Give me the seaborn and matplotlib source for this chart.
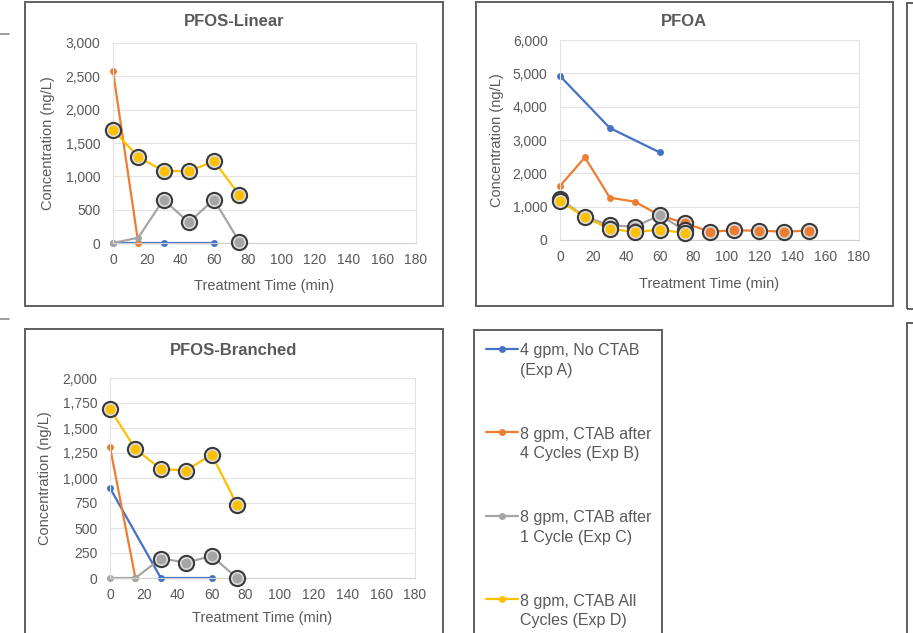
import numpy as np
import pandas as pd
import seaborn as sns
import matplotlib.pyplot as plt
from matplotlib.patches import Rectangle
from matplotlib.lines import Line2D
from matplotlib.ticker import StrMethodFormatter, MultipleLocator

# experiment names and Excel-ish colours
experiments = ['4 gpm, No CTAB\n(Exp A)', '8 gpm, CTAB after\n4 Cycles (Exp B)',
               '8 gpm, CTAB after\n1 Cycle (Exp C)', '8 gpm, CTAB All\nCycles (Exp D)']
colors = ['#4472C4', '#ED7D31', '#A5A5A5', '#FFC000']

# sampling times (min)
t_a = [0, 30, 60]
t_b_short = [0, 15]
t_b_long = [0, 15, 30, 45, 60, 75, 90, 105, 120, 135, 150]
t_cd = [0, 15, 30, 45, 60, 75]

# PFOS-Linear (ng/L)
lin_a = [0, 0, 0]
lin_b = [2580, 0]
lin_c = [0, 80, 650, 310, 650, 20]
lin_d = [1700, 1290, 1080, 1075, 1230, 720]
lin_c_flag = [0, 0, 1, 1, 1, 1]
lin_d_flag = [1, 1, 1, 1, 1, 1]

# PFOA (ng/L)
pfoa_a = [4920, 3360, 2630]
pfoa_b = [1620, 2480, 1270, 1150, 740, 510, 250, 290, 280, 250, 280]
pfoa_c = [1230, 700, 440, 400, 740, 300]
pfoa_d = [1170, 680, 340, 240, 310, 210]
pfoa_b_flag = [0, 0, 0, 0, 0, 1, 1, 1, 1, 1, 1]
pfoa_c_flag = [1, 0, 1, 1, 1, 1]
pfoa_d_flag = [1, 1, 1, 1, 1, 1]

# PFOS-Branched (ng/L)
br_a = [900, 0, 0]
br_b = [1310, 0]
br_c = [0, 0, 195, 155, 220, 0]
br_d = [1690, 1290, 1090, 1075, 1235, 730]
br_c_flag = [0, 0, 1, 1, 1, 1]
br_d_flag = [1, 1, 1, 1, 1, 1]


def make_df(a, b, tb, c, d, bflag, cflag, dflag):
    rows = []
    for t, v in zip(t_a, a):
        rows.append((t, v, experiments[0], 0))
    for t, v, f in zip(tb, b, bflag):
        rows.append((t, v, experiments[1], f))
    for t, v, f in zip(t_cd, c, cflag):
        rows.append((t, v, experiments[2], f))
    for t, v, f in zip(t_cd, d, dflag):
        rows.append((t, v, experiments[3], f))
    return pd.DataFrame(rows, columns=['time', 'conc', 'exp', 'flag'])


df_lin = make_df(lin_a, lin_b, t_b_short, lin_c, lin_d, [0, 0], lin_c_flag, lin_d_flag)
df_pfoa = make_df(pfoa_a, pfoa_b, t_b_long, pfoa_c, pfoa_d, pfoa_b_flag, pfoa_c_flag, pfoa_d_flag)
df_br = make_df(br_a, br_b, t_b_short, br_c, br_d, [0, 0], br_c_flag, br_d_flag)

sns.set_style('white')
plt.rcParams['font.family'] = ['Liberation Sans', 'DejaVu Sans']
txt = '#595959'
pal = dict(zip(experiments, colors))

fig = plt.figure(figsize=(9.13, 6.33), dpi=100)
W, H = 913.0, 633.0


def fx(px):
    return px / W


def fy(py):
    return 1 - py / H


# panel frames (pixel boxes)
frames = [(25, 2, 443, 306), (476, 2, 893, 306), (25, 329, 443, 660),
          (474, 330, 662, 660), (907, 3, 960, 309), (907, 323, 960, 660)]
for x0, y0, x1, y1 in frames:
    fig.add_artist(Rectangle((fx(x0), fy(y1)), fx(x1) - fx(x0), fy(y0) - fy(y1),
                             transform=fig.transFigure, fill=False,
                             edgecolor='#5f5f5f', linewidth=1.4))
for py in [34, 319]:
    fig.add_artist(Line2D([0, fx(9)], [fy(py), fy(py)], transform=fig.transFigure,
                          color='#8c8c8c', linewidth=1.2))

# title, frame-of-plot (px), y max, y step, title pos, label offsets
panels = [
    ('PFOS-Linear', df_lin, (113, 43, 416, 243), 3000, 500, 234, 22, -0.19, -0.18),
    ('PFOA', df_pfoa, (560, 40, 859, 240), 6000, 1000, 684, 21, -0.187, -0.185),
    ('PFOS-Branched', df_br, (110, 378, 415, 578), 2000, 250, 234, 351, -0.19, -0.165),
]

for title, df, (l, t, r, b), ymax, ystep, tx, ty, ylc, xlc in panels:
    ax = fig.add_axes([fx(l), fy(b), fx(r) - fx(l), fy(t) - fy(b)])
    sns.lineplot(data=df, x='time', y='conc', hue='exp', hue_order=experiments,
                 palette=pal, marker='o', markersize=5, markeredgewidth=0,
                 linewidth=1.6, estimator=None, legend=False, ax=ax)
    hl = df[df['flag'] == 1]
    for e in experiments:
        sub = hl[hl['exp'] == e]
        if len(sub) == 0:
            continue
        sns.scatterplot(data=sub, x='time', y='conc', color='#dadada', s=120,
                        edgecolor='#3a3a3a', linewidth=1.5, legend=False, ax=ax, zorder=4)
        sns.scatterplot(data=sub, x='time', y='conc', color=pal[e], s=50,
                        linewidth=0, legend=False, ax=ax, zorder=4)
    ax.set_xlim(0, 180)
    ax.set_ylim(0, ymax)
    ax.xaxis.set_major_locator(MultipleLocator(20))
    ax.yaxis.set_major_locator(MultipleLocator(ystep))
    ax.yaxis.set_major_formatter(StrMethodFormatter('{x:,.0f}'))
    ax.grid(axis='y', color='#e3e3e3', linewidth=0.8)
    for s in ax.spines.values():
        s.set_color('#e3e3e3')
        s.set_linewidth(0.8)
    ax.spines['bottom'].set_color('#d0d0d0')
    ax.tick_params(axis='both', colors='#d0d0d0', labelcolor=txt, labelsize=10,
                   length=4, width=0.8, direction='out')
    ax.tick_params(axis='x', pad=3)
    ax.tick_params(axis='y', pad=5)
    ax.set_xlabel('Treatment Time (min)', fontsize=10.5, color=txt)
    ax.set_ylabel('Concentration (ng/L)', fontsize=10.5, color=txt)
    ax.xaxis.set_label_coords(0.5, xlc)
    ax.yaxis.set_label_coords(ylc, 0.5)
    for art in ax.collections + ax.lines:
        art.set_clip_on(False)
    fig.text(fx(tx), fy(ty), title, ha='center', va='center', fontsize=12,
             fontweight='bold', color=txt)

handles = [Line2D([], [], color=c, marker='o', markersize=5, markeredgewidth=0,
                  linewidth=1.6) for c in colors]
leg = fig.legend(handles, experiments, loc='upper left', bbox_to_anchor=(fx(486), fy(343)),
                 frameon=False, fontsize=11.5, labelcolor=txt, labelspacing=3.05,
                 handlelength=2.0, handletextpad=0.1, borderaxespad=0, borderpad=0)
for t in leg.get_texts():
    t.set_linespacing(1.4)
# keep the line marker level with the first text line
for col in leg._legend_handle_box.get_children():
    for item in col.get_children():
        item.align = 'top'

fig.savefig('out.png', dpi=100)
